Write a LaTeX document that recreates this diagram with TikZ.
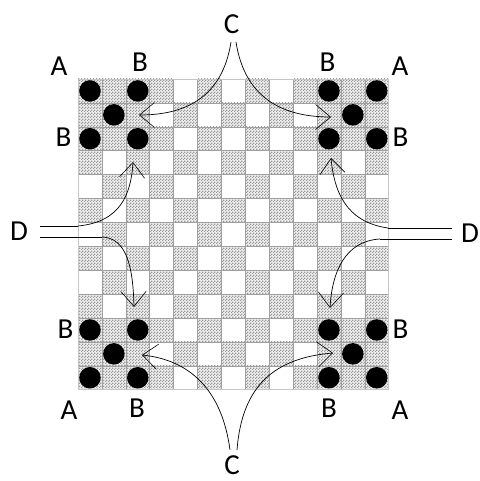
\documentclass[tikz,border=0pt]{standalone}
\usepackage{fontspec}
\setmainfont{Carlito}
\usetikzlibrary{arrows.meta,patterns}
\pgfdeclarepatternformonly{dith}{\pgfpointorigin}{\pgfqpoint{3pt}{3pt}}{\pgfqpoint{3pt}{3pt}}{%
  \pgfpathrectangle{\pgfpointorigin}{\pgfqpoint{1.5pt}{1.5pt}}%
  \pgfpathrectangle{\pgfqpoint{1.5pt}{1.5pt}}{\pgfqpoint{1.5pt}{1.5pt}}%
  \pgfusepath{fill}}
\begin{document}
\begin{tikzpicture}[x=1pt,y=-1pt,
  lbl/.style={font=\fontsize{29}{31}\selectfont, inner sep=0pt},
  hatchbg/.style={fill=gray!12},
  hatch/.style={pattern=dith, pattern color=gray!80},
  gridln/.style={draw=gray!75, line width=0.5pt},
  stone/.style={circle, fill=black, inner sep=0pt, minimum size=21.5pt},
  conn/.style={line width=0.7pt, -{Straight Barb[length=15pt,width=25pt,line width=0.6pt]}},
  wire/.style={line width=0.7pt},
]
\useasboundingbox (0,0) rectangle (479,481);
\def\s{23.9}
\def\xo{78}
\def\yo{79}
% hatched cells
\foreach \i in {0,...,12}{
  \foreach \j in {0,...,12}{
    \pgfmathtruncatemacro\h{or(mod(\i+\j,2)==1, and(or(\i<3,\i>9),or(\j<3,\j>9)))}
    \ifnum\h=1
      \fill[hatchbg] (\xo+\j*\s, \yo+\i*\s) rectangle ++(\s,\s);
      \fill[hatch] (\xo+\j*\s, \yo+\i*\s) rectangle ++(\s,\s);
    \fi
  }
}
% grid lines
\foreach \k in {1,...,12}{
  \draw[gridln] (\xo+\k*\s, \yo) -- (\xo+\k*\s, \yo+13*\s);
  \draw[gridln] (\xo, \yo+\k*\s) -- (\xo+13*\s, \yo+\k*\s);
}
\draw[draw=gray!45, line width=0.8pt] (\xo,\yo) rectangle (\xo+13*\s, \yo+13*\s);
% stones
\foreach \r/\c/\n in {0/0/tl,0/10/tr,10/0/bl,10/10/br}{
  \foreach \a/\b in {0/0,0/2,1/1,2/0,2/2}{
    \node[stone] (\n-\a\b) at (\xo+\c*\s+\b*\s+0.5*\s, \yo+\r*\s+\a*\s+0.5*\s) {};
  }
}
% labels
\node[lbl] (A1) at (59,66.5) {A};
\node[lbl] (B1) at (140,62.5) {B};
\node[lbl] (B2) at (63.5,137.5) {B};
\node[lbl] (B3) at (327.5,62.5) {B};
\node[lbl] (A2) at (400,66.5) {A};
\node[lbl] (B4) at (400.5,137.5) {B};
\node[lbl] (B5) at (65.5,329) {B};
\node[lbl] (A3) at (69,410) {A};
\node[lbl] (B6) at (137,408.5) {B};
\node[lbl] (B7) at (400.5,329) {B};
\node[lbl] (B8) at (329,408.5) {B};
\node[lbl] (A4) at (400,410) {A};
\node[lbl] (Ct) at (231.5,24) {C};
\node[lbl] (Cb) at (232,465.5) {C};
\node[lbl] (Dl) at (19,231) {D};
\node[lbl] (Dr) at (470,233) {D};
% connector end points
\coordinate (ct1) at (231,42);
\coordinate (ct2) at (236,42);
\coordinate (cb1) at (230,450);
\coordinate (cb2) at (237,450);
\coordinate (tTL) at (139,115);
\coordinate (tTR) at (331,117);
\coordinate (tBL) at (142,355);
\coordinate (tBR) at (333,353);
\coordinate (dTL) at (133,162);
\coordinate (dBL) at (134,307);
\coordinate (dTR) at (331,158);
\coordinate (dBR) at (330,308);
\coordinate (dl1) at (40,226);
\coordinate (dl2) at (40,237);
\coordinate (dr1) at (452,228);
\coordinate (dr2) at (452,239);
% C connectors
\draw[conn] (ct1) .. controls (222,100) and (182,115) .. (tTL);
\draw[conn] (ct2) .. controls (245,100) and (285,117) .. (tTR);
\draw[conn] (cb1) .. controls (222,390) and (190,360) .. (tBL);
\draw[conn] (cb2) .. controls (242,385) and (275,358) .. (tBR);
% D connectors
\draw[wire] (dl1) -- (78,226);
\draw[conn] (78,226) .. controls (120,222) and (131,195) .. (dTL);
\draw[wire] (dl2) -- (102,237);
\draw[conn] (102,237) .. controls (126,238) and (133,265) .. (dBL);
\draw[wire] (dr1) -- (388,228);
\draw[conn] (388,228) .. controls (345,222) and (334,190) .. (dTR);
\draw[wire] (dr2) -- (380,239);
\draw[conn] (380,239) .. controls (345,241) and (332,272) .. (dBR);
\end{tikzpicture}
\end{document}
